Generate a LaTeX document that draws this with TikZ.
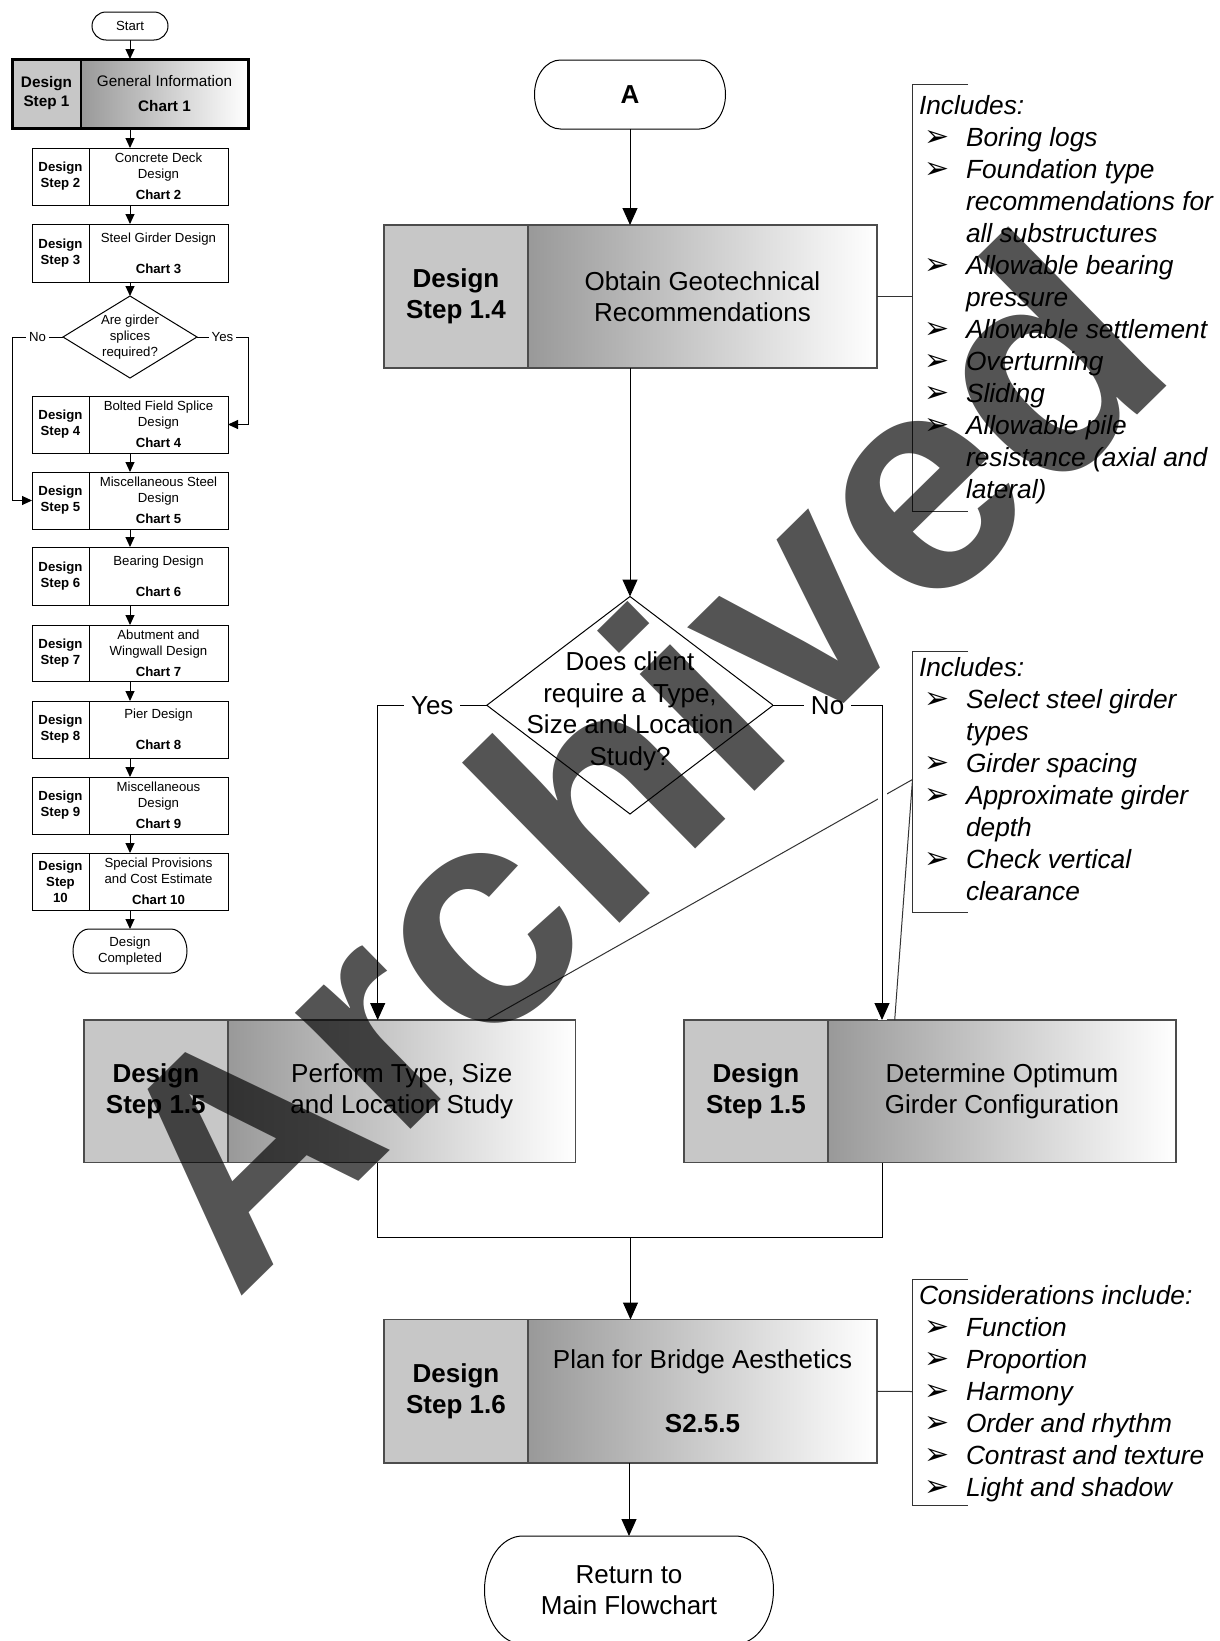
\documentclass[tikz,border=0pt]{standalone}
\usepackage{fontspec}
\setmainfont{Liberation Sans}
\newfontfamily\symfont{DejaVu Sans}
\usetikzlibrary{arrows.meta,fit}

% type sizes
\newcommand\fntSmall{\fontsize{13.2}{16}\selectfont}
\newcommand\fntMid{\fontsize{15.3}{19}\selectfont}
\newcommand\fntBig{\fontsize{26}{31.5}\selectfont}
\newcommand\fntNote{\fontsize{26.3}{32}\selectfont\itshape}
\newcommand\fntMark{\fontsize{310}{360}\selectfont\bfseries}
% list bullets and hanging indent for the note lists
\newcommand\notebullet{\hspace*{5pt}\makebox[42pt][l]{\symfont\upshape\fontsize{30}{30}\selectfont ➢}}
\newcommand\noteindent{\hspace*{47pt}}

% two-part step box: name, x, y (top left), left width, right width, height, left text, right text
\newcommand\mkbox[8]{%
  \node[partA, minimum width=#4, minimum height=#6, anchor=north west] (#1l) at (#2,#3) {#7};
  \node[partB, minimum width=#5, minimum height=#6, anchor=north west] (#1r) at (#1l.north east) {#8};
  \node[frame, fit=(#1l)(#1r)] (#1) {};
}
% terminator outline around a node: name, corner x radius, corner y radius
\newcommand\mkterm[3]{%
  \draw[ln] ([xshift=#2pt]#1.north west) -- ([xshift=-#2pt]#1.north east)
    arc[start angle=90, end angle=-90, x radius=#2pt, y radius=#3pt]
    -- ([xshift=#2pt]#1.south west)
    arc[start angle=270, end angle=90, x radius=#2pt, y radius=#3pt] -- cycle;
}

\tikzset{
  every node/.style={inner sep=0pt, outer sep=0pt},
  ln/.style={line width=1pt, draw=black},
  arr/.style={ln, -{Triangle[length=17pt, width=15pt]}},
  sarr/.style={ln, -{Triangle[length=10pt, width=9pt]}},
  brk/.style={line width=1pt, draw=black!80},
  shA/.style={draw=black!70, line width=1.2pt, fill=black!22, align=center},
  shB/.style={draw=black!70, line width=1.2pt, left color=black!40, right color=white, align=center},
  plA/.style={draw=black, line width=1pt, fill=white, align=center},
  term/.style={align=center},
  lab/.style={fill=white, inner sep=3pt, font=\fntSmall},
  labbig/.style={fill=white, inner sep=7pt, font=\fntBig},
  note/.style={align=left, font=\fntNote, anchor=north west},
}

\begin{document}
\begin{tikzpicture}[x=1pt, y=-1pt]
\useasboundingbox (0,0) rectangle (1219,1641);
\fill[white] (0,0) rectangle (1219,1641);

% ---------- overview column ----------
\node[term, font=\fntSmall, minimum width=76, minimum height=28] (start) at (130,26) {Start};
\mkterm{start}{14}{14}

\begin{scope}[partA/.style={shA, draw=black, font=\fntMid\bfseries},
              partB/.style={shB, draw=black, font=\fntMid},
              frame/.style={draw=black, line width=3pt}]
\mkbox{b1}{12}{59}{69}{167}{69}{Design\\Step 1}{General Information\\[6pt]\textbf{Chart 1}}
\end{scope}

\begin{scope}[partA/.style={plA, font=\fntSmall\bfseries},
              partB/.style={plA, font=\fntSmall},
              frame/.style={draw=black, line width=1pt}]
\mkbox{b2}{32}{148}{57}{139}{57}{Design\\Step 2}{Concrete Deck\\Design\\[5pt]\textbf{Chart 2}}
\mkbox{b3}{32}{224}{57}{139}{58}{Design\\Step 3}{Steel Girder Design\\[15pt]\textbf{Chart 3}}
\mkbox{b4}{32}{396}{57}{139}{57}{Design\\Step 4}{Bolted Field Splice\\Design\\[5pt]\textbf{Chart 4}}
\mkbox{b5}{32}{472}{57}{139}{57}{Design\\Step 5}{Miscellaneous Steel\\Design\\[5pt]\textbf{Chart 5}}
\mkbox{b6}{32}{547}{57}{139}{58}{Design\\Step 6}{Bearing Design\\[15pt]\textbf{Chart 6}}
\mkbox{b7}{32}{625}{57}{139}{56}{Design\\Step 7}{Abutment and\\Wingwall Design\\[5pt]\textbf{Chart 7}}
\mkbox{b8}{32}{701}{57}{139}{57}{Design\\Step 8}{Pier Design\\[15pt]\textbf{Chart 8}}
\mkbox{b9}{32}{777}{57}{139}{57}{Design\\Step 9}{Miscellaneous\\Design\\[5pt]\textbf{Chart 9}}
\mkbox{b10}{32}{853}{57}{139}{57}{Design\\Step\\10}{Special Provisions\\and Cost Estimate\\[5pt]\textbf{Chart 10}}
\end{scope}

\node[align=center, font=\fntSmall, minimum width=134, minimum height=82] (q1) at (130,337) {Are girder\\splices\\required?};
\draw[ln] (q1.north) -- (q1.east) -- (q1.south) -- (q1.west) -- cycle;

\node[term, font=\fntSmall, minimum width=114, minimum height=44] (done) at (130,951) {Design\\Completed};
\mkterm{done}{16}{22}

\coordinate (nol) at (12,337);
\coordinate (yesr) at (248,337);

\draw[sarr] (start.south) -- (b1.north);
\draw[sarr] (b1.south) -- (b2.north);
\draw[sarr] (b2.south) -- (b3.north);
\draw[sarr] (b3.south) -- (q1.north);
\draw[sarr] (q1.west) -- node[lab] (nolab) {No} (nol) |- (b5.west);
\draw[sarr] (q1.east) -- node[lab] (yeslab) {Yes} (yesr) |- (b4.east);
\draw[sarr] (b4.south) -- (b5.north);
\draw[sarr] (b5.south) -- (b6.north);
\draw[sarr] (b6.south) -- (b7.north);
\draw[sarr] (b7.south) -- (b8.north);
\draw[sarr] (b8.south) -- (b9.north);
\draw[sarr] (b9.south) -- (b10.north);
\draw[sarr] (b10.south) -- (done.north);

% ---------- detail column ----------
\node[term, font=\fntBig\bfseries, minimum width=191, minimum height=69] (A) at (630,94.5) {A};
\mkterm{A}{26}{34.5}

\begin{scope}[partA/.style={shA, font=\fntBig\bfseries},
              partB/.style={shB, font=\fntBig},
              frame/.style={draw=black!70, line width=1.6pt}]
\mkbox{s14}{384}{225}{144}{349}{143}{Design\\Step 1.4}{Obtain Geotechnical\\Recommendations}
\mkbox{s15a}{83.7}{1020}{144.3}{347.5}{142.5}{Design\\Step 1.5}{Perform Type, Size\\and Location Study}
\mkbox{s15b}{684}{1020}{144}{348}{142.5}{Design\\Step 1.5}{Determine Optimum\\Girder Configuration}
\mkbox{s16}{384}{1319.5}{144}{349}{143.5}{Design\\Step 1.6}{Plan for Bridge Aesthetics\\[33pt]\textbf{S2.5.5}}
\end{scope}

% decision: the strut on the first line sets the text block a little below the centre
\node[align=center, font=\fntBig, minimum width=286.4, minimum height=217.5] (q2) at (630,705.25)
  {\rule{0pt}{31pt}Does client\\require a Type,\\Size and Location\\Study?};
\draw[ln] (q2.north) -- (q2.east) -- (q2.south) -- (q2.west) -- cycle;

\node[term, font=\fntBig, minimum width=289, minimum height=108] (ret) at (629,1590) {Return to\\Main Flowchart};
\mkterm{ret}{38}{54}

% note brackets
\coordinate (k1) at (912.5,296.5);
\coordinate (k2) at (912.5,779.5);
\coordinate (k3) at (912.5,1391.5);
\draw[brk] (968,84) -| (912.5,511) -- (968,511);
\draw[brk] (968,651) -| (912.5,912.5) -- (968,912.5);
\draw[brk] (968,1279) -| (912.5,1505) -- (968,1505);
\draw[brk] (s14.east) -- (k1);
\draw[brk] (s16.east) -- (k3);

\node[note] (inc1) at (919,95) {Includes:\\
  \notebullet Boring logs\\
  \notebullet Foundation type\\
  \noteindent recommendations for\\
  \noteindent all substructures\\
  \notebullet Allowable bearing\\
  \noteindent pressure\\
  \notebullet Allowable settlement\\
  \notebullet Overturning\\
  \notebullet Sliding\\
  \notebullet Allowable pile\\
  \noteindent resistance (axial and\\
  \noteindent lateral)};
\node[note] (inc2) at (919,657) {Includes:\\
  \notebullet Select steel girder\\
  \noteindent types\\
  \notebullet Girder spacing\\
  \notebullet Approximate girder\\
  \noteindent depth\\
  \notebullet Check vertical\\
  \noteindent clearance};
\node[note] (cons) at (919,1285) {Considerations include:\\
  \notebullet Function\\
  \notebullet Proportion\\
  \notebullet Harmony\\
  \notebullet Order and rhythm\\
  \notebullet Contrast and texture\\
  \notebullet Light and shadow};

% girder notes point at both study boxes
\coordinate (gl) at (486.6,1020);
\coordinate (gr) at (894.7,1020);
\draw[brk] (k2) -- (gl);
\draw[brk] (k2) -- (gr);

% flow connectors
\coordinate (ya) at (377.7,705.25);
\coordinate (na) at (882,705.25);
\coordinate (jl) at (377.7,1237);
\coordinate (jr) at (882,1237);
\coordinate (jm) at (630.5,1237);

\draw[arr] (A.south) -- (A.south |- s14.north);
\draw[arr] (s14.south -| q2.north) -- (q2.north);
\draw[arr] (q2.west) -- node[labbig] (yes2) {Yes} (ya) -- (ya |- s15a.north);
\draw[arr, preaction={draw=white, line width=9pt, -}] (q2.east) -- node[labbig] (no2) {No} (na) -- (na |- s15b.north);
\draw[ln] (jl |- s15a.south) -- (jl) -- (jr) -- (jr |- s15b.south);
\draw[arr] (jm) -- (s16.north);
\draw[arr] (s16.south -| ret.north) -- (ret.north);

% watermark
\node[font=\fntMark, text=black, text opacity=0.67, anchor=base west, rotate=44.5] (wm) at (236,1301) {Archived};
\end{tikzpicture}
\end{document}
